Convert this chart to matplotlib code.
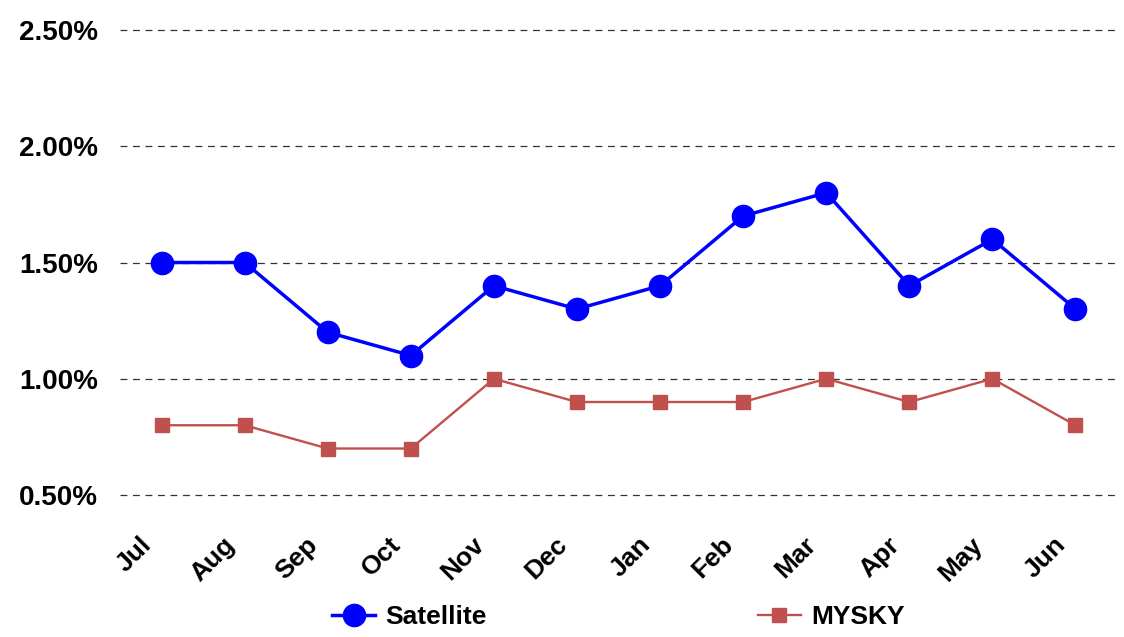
import numpy as np
import matplotlib
matplotlib.use('Agg')
import matplotlib.pyplot as plt
import matplotlib.transforms as mtransforms
from matplotlib.ticker import PercentFormatter

plt.rcParams['font.family'] = ['Liberation Sans', 'DejaVu Sans']
plt.rcParams['font.weight'] = 'bold'

months = ['Jul', 'Aug', 'Sep', 'Oct', 'Nov', 'Dec',
          'Jan', 'Feb', 'Mar', 'Apr', 'May', 'Jun']
satellite = [1.5, 1.5, 1.2, 1.1, 1.4, 1.3, 1.4, 1.7, 1.8, 1.4, 1.6, 1.3]
mysky = [0.8, 0.8, 0.7, 0.7, 1.0, 0.9, 0.9, 0.9, 1.0, 0.9, 1.0, 0.8]
yticks = [0.5, 1.0, 1.5, 2.0, 2.5]

fig = plt.figure(figsize=(11.24, 6.37), dpi=100)
ax = fig.add_axes([0.1068, 0.2229, 0.887, 0.730])

x = np.arange(len(months))
ax.plot(x, satellite, color='#0000FF', lw=2.5, marker='o', ms=16,
        label='Satellite', zorder=3)
ax.plot(x, mysky, color='#C0504D', lw=1.7, marker='s', ms=10,
        label='MYSKY', zorder=3)

ax.set_xlim(-0.5, len(months) - 0.5)
ax.set_ylim(0.5, 2.5)
ax.set_yticks(yticks)
ax.yaxis.set_major_formatter(PercentFormatter(decimals=2))
ax.yaxis.grid(True, linestyle=(0, (5.5, 4.5)), color='#333333', lw=0.9)
ax.set_axisbelow(True)
for gl in ax.get_ygridlines():
    gl.set_clip_on(False)
for s in ax.spines.values():
    s.set_visible(False)

ax.set_xticks(x)
ax.set_xticklabels(months, rotation=45, ha='right', rotation_mode='anchor',
                   fontsize=19, fontweight='bold')
ax.tick_params(axis='x', length=0, pad=27)
ax.tick_params(axis='y', length=0, pad=16, labelsize=20)
for t in ax.get_yticklabels():
    t.set_fontweight('bold')

# labels sit a bit left of their ticks
shift = mtransforms.ScaledTranslation(-22 / 100, 0, fig.dpi_scale_trans)
for t in ax.get_xticklabels():
    t.set_transform(t.get_transform() + shift)

ax.legend(loc='lower center', bbox_to_anchor=(0.5, -0.34), ncol=2,
          frameon=False, prop={'size': 19, 'weight': 'bold'},
          columnspacing=10.3, handlelength=1.6, handletextpad=0.4)

fig.savefig('out.png', dpi=100)
